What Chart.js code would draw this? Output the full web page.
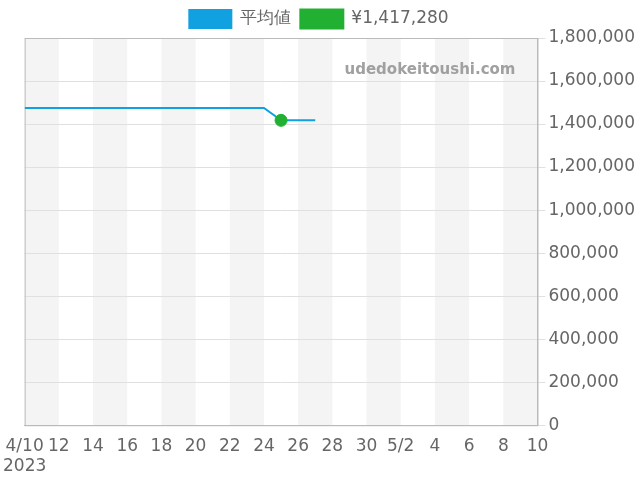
<!DOCTYPE html>
<html><head><meta charset="utf-8">
<script src="https://cdn.jsdelivr.net/npm/chart.js@4"></script>
<style>html,body{margin:0;padding:0;background:#fff}#c{width:640px;height:480px}</style>
</head><body><div id="c"><canvas id="chart" width="640" height="480"></canvas></div>
<script>
// day offsets from 4/10/2023
const avgDays = [0, 2, 4, 6, 8, 10, 12, 14, 15, 16, 17];
const avgValues = [1475000, 1475000, 1475000, 1475000, 1475000, 1475000, 1475000, 1475000, 1417280, 1417280, 1417280];
const priceDays = [15];
const priceValues = [1417280];
const tickLabels = ['4/10', '12', '14', '16', '18', '20', '22', '24', '26', '28', '30', '5/2', '4', '6', '8', '10'];

const bands = {
  id: 'bands',
  beforeDraw(chart) {
    const {ctx, chartArea: a, scales: {x}} = chart;
    ctx.save();
    ctx.fillStyle = '#f4f4f4';
    for (let d = 0; d < 30; d += 4) {
      const l = x.getPixelForValue(d), r = x.getPixelForValue(d + 2);
      ctx.fillRect(l, a.top, r - l, a.bottom - a.top);
    }
    ctx.restore();
  },
  beforeDatasetsDraw(chart) {
    const {ctx, chartArea: a} = chart;
    ctx.save();
    ctx.strokeStyle = '#bbb';
    ctx.lineWidth = 1;
    ctx.strokeRect(a.left + 0.5, a.top + 0.5, a.right - a.left, a.bottom - a.top);
    ctx.font = 'bold 15px "DejaVu Sans"';
    ctx.fillStyle = '#a0a0a0';
    ctx.textAlign = 'right';
    ctx.fillText('udedokeitoushi.com', a.right - 22, a.top + 32);
    ctx.restore();
  }
};

new Chart(document.getElementById('chart'), {
  type: 'line',
  data: {
    datasets: [
      {label: '平均値', data: avgDays.map((d, i) => ({x: d, y: avgValues[i]})),
       borderColor: '#11a0e0', backgroundColor: '#11a0e0', borderWidth: 2, pointRadius: 0, tension: 0, order: 2},
      {label: '¥1,417,280', data: priceDays.map((d, i) => ({x: d, y: priceValues[i]})),
       borderColor: '#22b033', backgroundColor: '#22b033', pointRadius: 6, showLine: false, order: 1}
    ]
  },
  options: {
    responsive: false, animation: false,
    layout: {padding: {left: 0, right: 2}},
    plugins: {
      legend: {labels: {boxWidth: 42, boxHeight: 18, font: {size: 17, family: '"DejaVu Sans"'}, color: '#666',
        sort: (a, b) => a.datasetIndex - b.datasetIndex}},
      tooltip: {enabled: false}
    },
    scales: {
      x: {type: 'linear', min: 0, max: 30,
        ticks: {stepSize: 2, autoSkip: false, maxRotation: 0, color: '#666', font: {size: 17, family: '"DejaVu Sans"'},
          callback: (v) => { const l = tickLabels[v / 2]; return v === 0 ? [l, '2023'] : l; }},
        grid: {display: false}, border: {color: '#bbb'}},
      y: {position: 'right', min: 0, max: 1800000,
        ticks: {stepSize: 200000, color: '#666', font: {size: 17, family: '"DejaVu Sans"'},
          callback: (v) => v.toLocaleString('en-US')},
        grid: {color: '#e0e0e0'}, border: {color: '#bbb'}}
    }
  },
  plugins: [bands]
});
</script></body></html>
